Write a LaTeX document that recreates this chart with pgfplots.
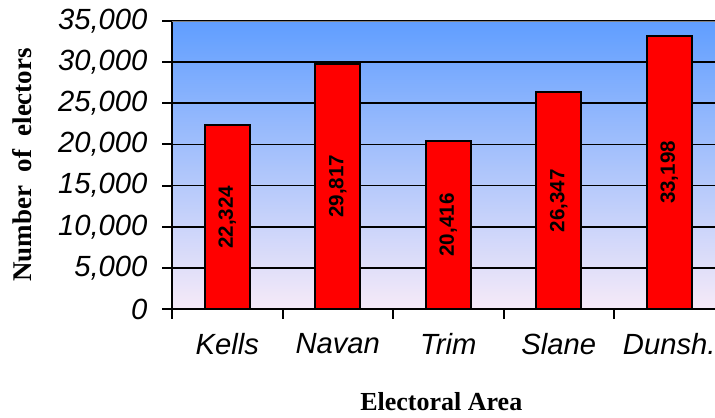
\documentclass[border=0pt]{standalone}
\usepackage{fontspec}
\setmainfont{Liberation Sans}
\newfontfamily\timesfont{Liberation Serif}
\usepackage{pgfplots}
\pgfplotsset{compat=1.18}
\pgfkeys{/pgf/number format/assume math mode=true}
\definecolor{bgtop}{RGB}{96,158,255}
\definecolor{bgbot}{RGB}{246,234,248}
\definecolor{barred}{RGB}{255,0,0}
\begin{document}
\begin{tikzpicture}
\begin{axis}[
  scale only axis,
  width=276.25pt, height=144pt,
  xmin=-0.5, xmax=4.5,
  ymin=0, ymax=35000,
  axis x line*=bottom, axis y line*=left,
  axis line style={line width=1pt, black},
  axis background/.style={shade, top color=bgtop, bottom color=bgbot},
  ytick={0,5000,...,35000},
  scaled y ticks=false,
  y tick label style={/pgf/number format/fixed, /pgf/number format/1000 sep={,}, xshift=-4pt},
  xtick={-0.5,0.5,...,4.5},
  xticklabels={Kells,Navan,Trim,Slane,Dunsh.},
  x tick label as interval,
  x tick label style={yshift=-4pt},
  tick align=outside,
  major tick length=4.75pt,
  tick style={black, line width=1pt},
  tick label style={font=\fontsize{14.6}{16}\selectfont\itshape},
  ymajorgrids,
  major grid style={black, line width=0.8pt},
  xlabel={\timesfont\bfseries\fontsize{13}{15}\selectfont Electoral Area},
  ylabel={\timesfont\bfseries\fontsize{13.5}{15}\selectfont Number\ \ of\ \ electors},
  every axis x label/.style={at={(axis description cs:0.5,0)}, anchor=center, xshift=-3.5pt, yshift=-46.5pt},
  every axis y label/.style={at={(axis description cs:0,0.5)}, xshift=-75pt, rotate=90, anchor=center},
]
\addplot[ybar, bar width=0.407, fill=barred, draw=black, line width=1pt,
  nodes near coords={\pgfmathprintnumber[fixed,precision=0,1000 sep={,}]{\pgfplotspointmeta}},
  visualization depends on={rawy \as \rawy},
  every node near coord/.append style={shift={(axis direction cs:0,-\rawy/2)}, rotate=90, anchor=center,
    font=\bfseries\fontsize{10.3}{12}\selectfont, text=black}
] coordinates {(0,22324) (1,29817) (2,20416) (3,26347) (4,33198)};
\draw[line width=1pt, gray] (rel axis cs:0,1) -- (rel axis cs:1,1);
\end{axis}
\pgfresetboundingbox
\path[use as bounding box] (-86pt,-54pt) rectangle (271.5pt,154.5pt);
\end{tikzpicture}
\end{document}
